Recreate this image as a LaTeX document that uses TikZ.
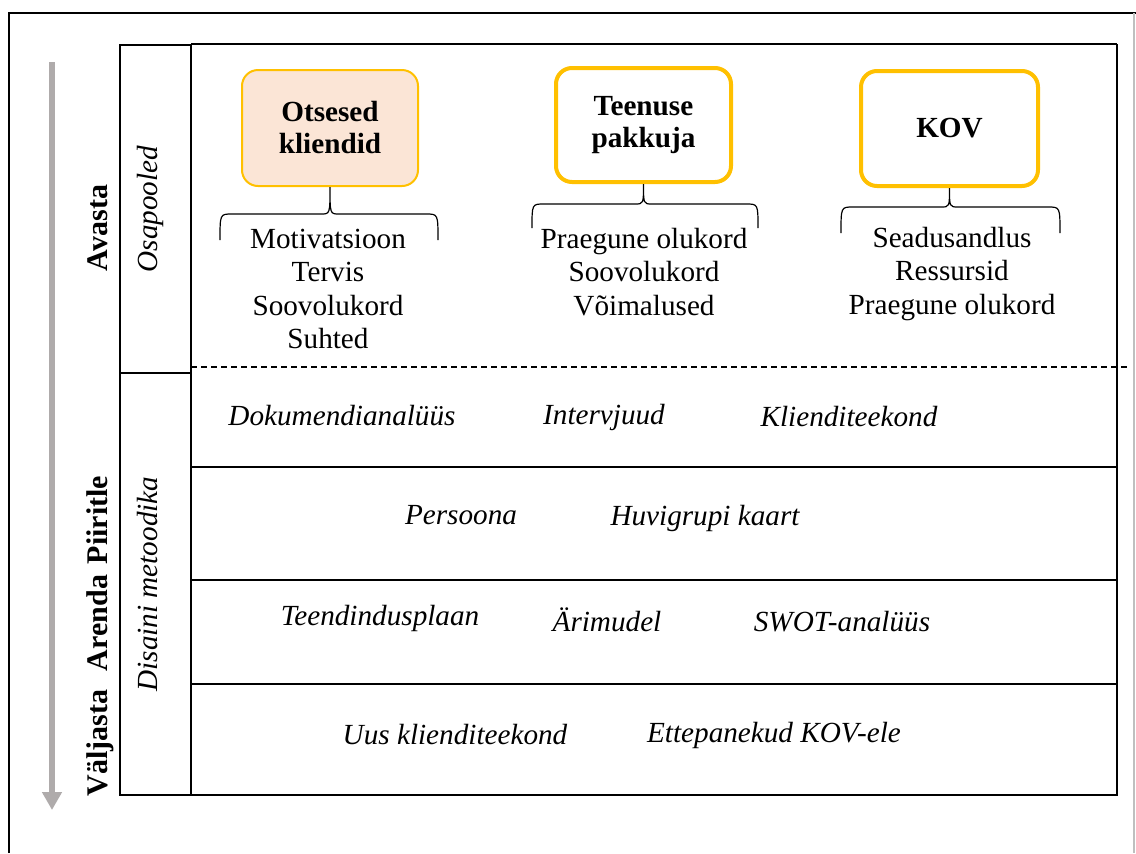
\documentclass[tikz,border=0pt]{standalone}
\usepackage{fontspec}
\setmainfont{Liberation Serif}
\usetikzlibrary{arrows.meta}
\definecolor{Gold}{RGB}{255,192,0}
\definecolor{Peach}{RGB}{251,229,214}
\definecolor{FlowGray}{RGB}{175,171,171}

\begin{document}
\begin{tikzpicture}[
    x=0.5pt, y=-0.5pt,
    font=\fontsize{14.6}{16.75}\selectfont,
    party/.style={
      draw=Gold,
      rounded corners=8pt,
      align=center,
      font=\fontsize{14.6}{16}\selectfont\bfseries,
      minimum width=89pt,
      minimum height=58pt,
      inner sep=1pt
    },
    items/.style={align=center, inner sep=0pt},
    method/.style={font=\fontsize{14.6}{16.75}\selectfont\itshape, inner sep=0pt},
    phase/.style={rotate=90, anchor=base, inner sep=0pt,
      font=\fontsize{15}{16.75}\selectfont\bfseries},
    side/.style={rotate=90, anchor=base, inner sep=0pt,
      font=\fontsize{14.6}{16.75}\selectfont\itshape},
    rowline/.style={line width=0.7pt},
    tableframe/.style={line width=1.2pt},
    brc/.style={line width=0.6pt},
    flow/.style={FlowGray, line width=3pt, -{Triangle[width=9.5pt, length=9pt]}}
  ]
    \useasboundingbox[fill=white] (0,0) rectangle (1136,853);

    % outer frame
    \draw[line width=1pt] (9,853) -- (9,13) -- (1136,13);
    \draw[gray!50, line width=0.6pt] (1134,13) -- (1134,853);

    % flow arrow
    \coordinate (flow-start) at (52,62);
    \coordinate (flow-end) at (52,810);
    \draw[flow] (flow-start) -- (flow-end);

    % phases
    \node[phase] (avasta) at (107,228) {Avasta};
    \node[phase] (piiritle) at (107,520) {Piiritle};
    \node[phase] (arenda) at (107,623) {Arenda};
    \node[phase] (valjasta) at (107,743) {Väljasta};

    % table
    \draw[tableframe] (120,45) rectangle (191,795);
    \draw[tableframe] (120,373) -- (191,373);
    \draw[rowline] (191,44) -- (1117,44);
    \draw[tableframe] (1117,44) -- (1117,795) -- (191,795);
    \draw[rowline] (191,467) -- (1117,467);
    \draw[rowline] (191,580) -- (1117,580);
    \draw[rowline] (191,684) -- (1117,684);
    \draw[line width=0.6pt, dash pattern=on 3pt off 2pt] (191,367) -- (1128,367);

    \node[side] (osapooled) at (157,209) {Osapooled};
    \node[side] (metoodika) at (157,584) {Disaini metoodika};

    % stakeholders
    \node[party, fill=Peach, line width=1pt, minimum width=88pt] (clients) at (330,128)
      {Otsesed\\kliendid};
    \node[party, line width=2pt, minimum width=87.5pt, minimum height=57pt] (provider) at (643.5,125)
      {Teenuse\\pakkuja};
    \node[party, line width=2pt, minimum width=88.5pt, minimum height=57.5pt] (kov) at (949.5,128.5)
      {KOV};

    \node[items] (clients-items) at (328,289)
      {Motivatsioon\\Tervis\\Soovolukord\\Suhted};
    \node[items] (provider-items) at (644,272)
      {Praegune olukord\\Soovolukord\\Võimalused};
    \node[items] (kov-items) at (952,274)
      {Seadusandlus\\Ressursid\\Praegune olukord};

    \draw[brc] (220,240) .. controls (220,214) .. (232,214) -- (321,214)
      .. controls (330,214) .. (clients.south) .. controls (330,214) .. (339,214)
      -- (426,214) .. controls (438,214) .. (438,240);
    \draw[brc] (532,228) .. controls (532,204) .. (544,204) -- (635,204)
      .. controls (643.5,204) .. (provider.south) .. controls (643.5,204) .. (652,204)
      -- (746,204) .. controls (758,204) .. (758,228);
    \draw[brc] (841,233) .. controls (841,207) .. (853,207) -- (941,207)
      .. controls (949.5,207) .. (kov.south) .. controls (949.5,207) .. (958,207)
      -- (1048,207) .. controls (1060,207) .. (1060,233);

    % methods
    \node[method] (docs) at (342,416) {Dokumendianalüüs};
    \node[method] (interviews) at (604,417) {Intervjuud};
    \node[method] (journey) at (849,417) {Klienditeekond};

    \node[method] (persona) at (461,515) {Persoona};
    \node[method] (stakemap) at (705,518) {Huvigrupi kaart};

    \node[method] (blueprint) at (380,618) {Teendindusplaan};
    \node[method] (bizmodel) at (607,620) {Ärimudel};
    \node[method] (swot) at (842,622) {SWOT-analüüs};

    \node[method] (newjourney) at (455,735) {Uus klienditeekond};
    \node[method] (proposals) at (774,735) {Ettepanekud KOV-ele};
\end{tikzpicture}
\end{document}
